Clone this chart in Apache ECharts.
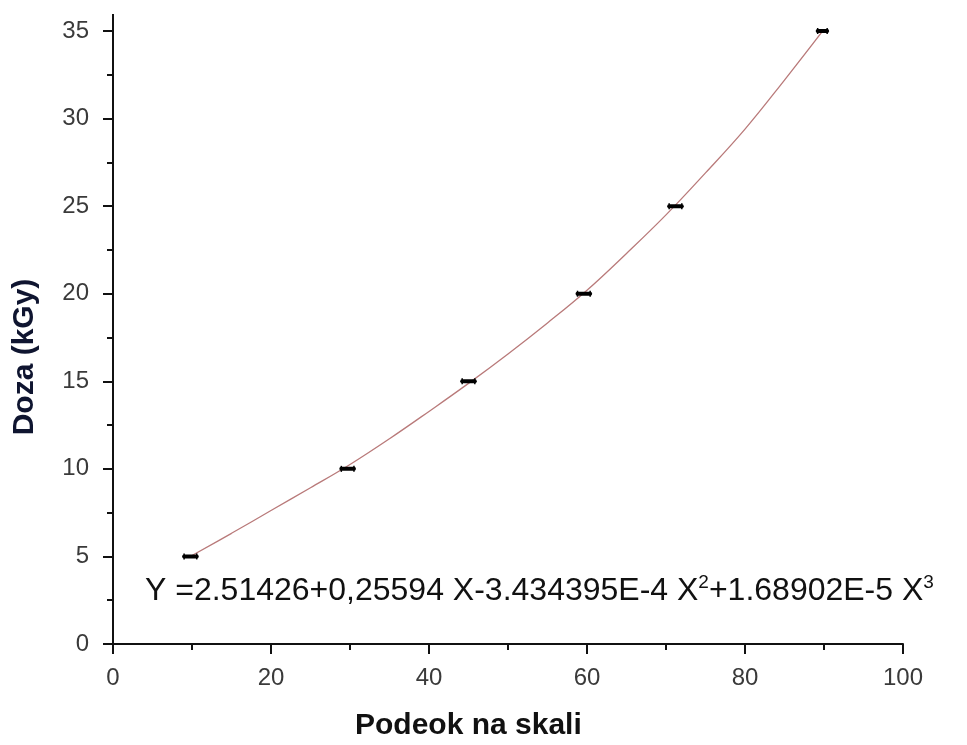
<!DOCTYPE html>
<html>
<head>
<meta charset="utf-8">
<script src="https://cdn.jsdelivr.net/npm/echarts@6/dist/echarts.min.js"></script>
<style>
    html, body { margin: 0; padding: 0; background: #fff; }
    #chart { width: 967px; height: 745px; }
</style>
</head>
<body>
<div id="chart"></div>
<script>
// measured points (x = podeok, y = doza), horizontal error half-width
var pointX = [9.8, 29.7, 45, 59.6, 71.2, 89.8];
var pointY = [5, 10, 15, 20, 25, 35];
var pointErr = [0.8, 0.8, 0.8, 0.8, 0.8, 0.6];

// fitted curve
var fitX = [10, 15, 20, 25, 30, 35, 40, 45, 50, 55, 60, 65, 70, 75, 80, 85, 90];
var fitY = [5.05, 6.32, 7.62, 8.92, 10.25, 11.72, 13.28, 14.88, 16.56, 18.33, 20.2, 22.3, 24.5, 26.9, 29.4, 32.2, 35.1];

var xTicks = { min: 0, max: 100, step: 20 };
var yTicks = { min: 0, max: 35, step: 5 };

var chart = echarts.init(document.getElementById('chart'));

var pointData = [];
for (var i = 0; i < pointX.length; i++) {
    pointData.push([pointX[i], pointY[i], pointErr[i]]);
}
var fitData = [];
for (var j = 0; j < fitX.length; j++) {
    fitData.push([fitX[j], fitY[j]]);
}

var tickFont = {
    fontFamily: 'Liberation Sans, Arial, sans-serif',
    fontSize: 24,
    color: '#3a3a3a'
};

var option = {
    backgroundColor: '#fff',
    animation: false,
    grid: {
        left: 113,
        right: 64,
        top: 31,
        bottom: 101
    },
    xAxis: {
        type: 'value',
        min: xTicks.min,
        max: xTicks.max,
        interval: xTicks.step,
        splitLine: { show: false },
        axisLine: { show: true, lineStyle: { color: '#111', width: 2 } },
        axisTick: { show: true, inside: false, length: 10, lineStyle: { color: '#111', width: 2 } },
        minorTick: { show: true, splitNumber: 2, length: 6, lineStyle: { color: '#111', width: 2 } },
        axisLabel: Object.assign({ margin: 22 }, tickFont)
    },
    yAxis: {
        type: 'value',
        min: yTicks.min,
        max: yTicks.max,
        interval: yTicks.step,
        splitLine: { show: false },
        axisLine: { show: true, lineStyle: { color: '#111', width: 2 } },
        axisTick: { show: true, inside: false, length: 10, lineStyle: { color: '#111', width: 2 } },
        minorTick: { show: true, splitNumber: 2, length: 6, lineStyle: { color: '#111', width: 2 } },
        axisLabel: Object.assign({ margin: 24 }, tickFont)
    },
    graphic: [
        {
            // axis line runs a little past 35
            type: 'line',
            shape: { x1: 113, y1: 14, x2: 113, y2: 31 },
            style: { stroke: '#111', lineWidth: 2 }
        },
        {
            type: 'text',
            left: 145,
            top: 573,
            style: {
                text: '{t|Y =2.51426+0,25594 X-3.434395E-4 X}{s|2}{t|+1.68902E-5 X}{s|3}',
                rich: {
                    t: { fontFamily: 'Liberation Sans, Arial, sans-serif', fontSize: 32, fill: '#111' },
                    s: { fontFamily: 'Liberation Sans, Arial, sans-serif', fontSize: 19, fill: '#111', verticalAlign: 'top', padding: [0, 0, 17, 0] }
                }
            }
        },
        {
            type: 'text',
            left: 355,
            top: 711,
            style: {
                text: 'Podeok na skali',
                font: 'bold 30px Liberation Sans, Arial, sans-serif',
                fill: '#111'
            }
        },
        {
            type: 'text',
            x: 25,
            y: 357,
            rotation: Math.PI / 2,
            style: {
                text: 'Doza (kGy)',
                font: 'bold 30px Liberation Sans, Arial, sans-serif',
                fill: '#0f1530',
                align: 'center',
                verticalAlign: 'middle'
            }
        }
    ],
    series: [
        {
            name: 'fit',
            type: 'line',
            data: fitData,
            smooth: 0.4,
            showSymbol: false,
            lineStyle: { color: '#b97a7a', width: 1.3 },
            z: 2
        },
        {
            name: 'points',
            type: 'custom',
            data: pointData,
            z: 3,
            renderItem: function(params, api) {
                var x = api.value(0);
                var y = api.value(1);
                var e = api.value(2);
                var a = api.coord([x - e, y]);
                var b = api.coord([x + e, y]);
                return {
                    type: 'group',
                    children: [
                        {
                            type: 'line',
                            shape: { x1: a[0], y1: a[1], x2: b[0], y2: b[1] },
                            style: { stroke: '#000', lineWidth: 4, lineCap: 'round' }
                        },
                        {
                            type: 'line',
                            shape: { x1: a[0], y1: a[1] - 3, x2: a[0], y2: a[1] + 3 },
                            style: { stroke: '#000', lineWidth: 1.5 }
                        },
                        {
                            type: 'line',
                            shape: { x1: b[0], y1: b[1] - 3, x2: b[0], y2: b[1] + 3 },
                            style: { stroke: '#000', lineWidth: 1.5 }
                        }
                    ]
                };
            }
        }
    ]
};

chart.setOption(option);
</script>
</body>
</html>
